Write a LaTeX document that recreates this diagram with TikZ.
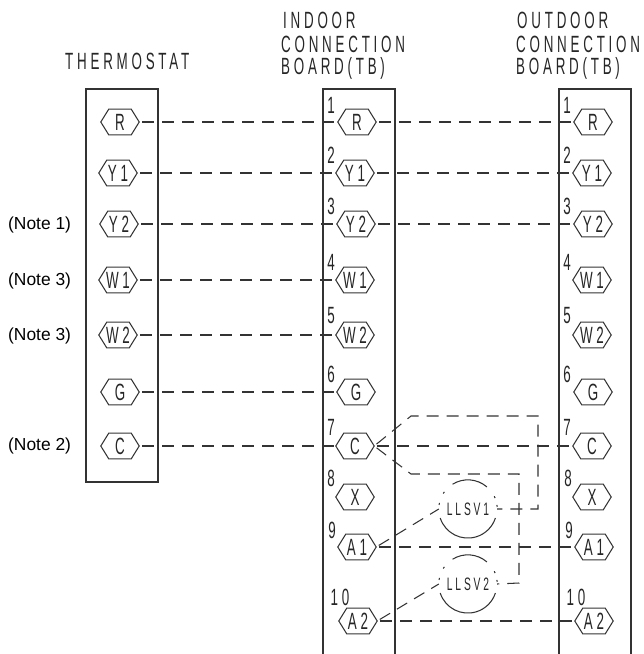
\documentclass[tikz,border=0pt]{standalone}
\usepackage{fontspec}
\setmainfont{Liberation Sans}
\newfontfamily\cad[LetterSpace=16,FakeStretch=0.57]{Liberation Sans}
\usetikzlibrary{calc}
\tikzset{
  x=1pt,y=-1pt,
  ink/.style={line width=1.05pt,draw=black!80},
  hex/.style={minimum width=38pt,minimum height=25.5pt,inner sep=0pt,text=black!85,
    font=\cad\fontsize{23.5}{24}\selectfont,
    append after command={\pgfextra{\draw[ink,line join=miter]
      (\tikzlastnode.west) -- ([xshift=8pt]\tikzlastnode.north west) -- ([xshift=-8pt]\tikzlastnode.north east)
      -- (\tikzlastnode.east) -- ([xshift=-8pt]\tikzlastnode.south east) -- ([xshift=8pt]\tikzlastnode.south west) -- cycle;}}},
  wire/.style={ink,dash pattern=on 12pt off 8pt,shorten <=3pt},
  title/.style={anchor=west,inner sep=0pt,text=black!85,font=\cad\fontsize{23.5}{24}\selectfont},
  num/.style={inner sep=0pt,text=black!85,font=\cad\fontsize{23.5}{24}\selectfont},
  note/.style={anchor=west,inner sep=0pt,text=black,font=\fontsize{17.4}{18}\selectfont},
  solenoid/.style={circle,minimum size=58pt,inner sep=0pt,text=black!85,font=\cad\fontsize{18}{18}\selectfont},
}
\begin{document}
\begin{tikzpicture}
\useasboundingbox (0,0) rectangle (644,654);
% boxes
\draw[ink] (86,482) rectangle (158,89);
\draw[ink] (323,654) -- (323,89) -- (395,89) -- (395,654);
\draw[ink] (559,654) -- (559,89) -- (631,89) -- (631,654);
% titles
\node[title] (tt) at (65,61) {THERMOSTAT};
\node[title] (ia) at (283,20) {INDOOR};
\node[title] (ib) at (281,44) {CONNECTION};
\node[title] (ic) at (281,68) {BOARD(TB)};
\node[title] (oa) at (517,20) {OUTDOOR};
\node[title] (ob) at (516,44) {CONNECTION};
\node[title] (oc) at (516,68) {BOARD(TB)};
% notes
\node[note] (n1) at (8,225) {(Note 1)};
\node[note] (n2) at (8,281) {(Note 3)};
\node[note] (n3) at (8,336) {(Note 3)};
\node[note] (n4) at (8,446) {(Note 2)};
% thermostat terminals
\foreach \k/\lab/\cx/\cy in {1/R/120/122,2/Y1/118/173,3/Y2/119/224,4/W1/118/280,5/W2/118/335,6/G/120/392,7/C/120/446}
  \node[hex] (t\k) at (\cx,\cy) {\lab};
% indoor terminals
\foreach \k/\lab/\cx/\cy in {1/R/357/122,2/Y1/355/173,3/Y2/356/224,4/W1/355/280,5/W2/355/335,6/G/356/392,7/C/355/446,8/X/355/497,9/A1/357/547,10/A2/358/621}
  \node[hex] (i\k) at (\cx,\cy) {\lab};
% outdoor terminals
\foreach \k/\lab/\cx/\cy in {1/R/593/122,2/Y1/592/173,3/Y2/593/224,4/W1/592/280,5/W2/592/335,6/G/593/392,7/C/592/446,8/X/592/497,9/A1/594/547,10/A2/594/621}
  \node[hex] (o\k) at (\cx,\cy) {\lab};
% terminal numbers
\foreach \k/\lab/\cx/\cy in {1/1/331/105,2/2/331/155,3/3/331/206,4/4/331/262,5/5/331/316,6/6/331/374,7/7/331/427,8/8/331/478,9/9/332/530,10/10/340/597}
  \node[num] (ni\k) at (\cx,\cy) {\lab};
\foreach \k/\lab/\cx/\cy in {1/1/567/105,2/2/567/155,3/3/567/206,4/4/567/262,5/5/567/316,6/6/567/374,7/7/567/427,8/8/568/478,9/9/569/530,10/10/576/597}
  \node[num] (no\k) at (\cx,\cy) {\lab};
% wires
\foreach \k in {1,...,7}
  \draw[wire] (t\k.east) -- (i\k.west);
\foreach \k in {1,2,3,7,9,10}
  \draw[wire] (i\k.east) -- (o\k.west);
% solenoids
\node[solenoid] (v1) at (468,509) {LLSV1};
\node[solenoid] (v2) at (468,584) {LLSV2};
\foreach \v in {v1,v2} {
  \draw[ink] (\v.122) arc[start angle=122,end angle=49,radius=29pt];
  \draw[ink] (\v.198) arc[start angle=-162,end angle=-18,radius=29pt];
  \draw[ink] (\v.148) arc[start angle=148,end angle=144,radius=29pt];
  \draw[ink] (\v.168) arc[start angle=168,end angle=172,radius=29pt];
  \draw[ink] (\v.22) arc[start angle=22,end angle=26,radius=29pt];
  \draw[ink] (\v.4) arc[start angle=4,end angle=8,radius=29pt];
}
\coordinate (c1a) at (411,416);
\coordinate (c1b) at (538,416);
\coordinate (c1c) at (538,509);
\coordinate (c2a) at (411,474);
\coordinate (c2b) at (519,474);
\coordinate (c2c) at (519,583);
\draw[wire] (i7.east) -- (c1a) -- (c1b) -- (c1c) -- (v1.east);
\draw[wire] (i7.east) -- (c2a) -- (c2b) -- (c2c) -- (v2.east);
\draw[wire] (i9.east) -- (v1.west);
\draw[wire] (i10.east) -- (v2.west);
\end{tikzpicture}
\end{document}
